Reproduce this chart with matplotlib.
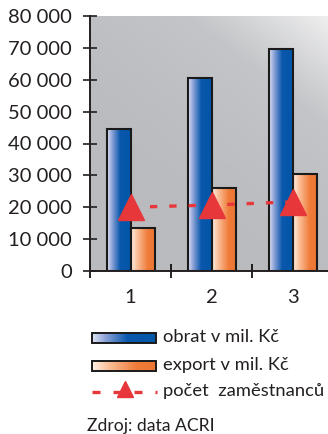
import numpy as np
import matplotlib
matplotlib.use("Agg")
import matplotlib.pyplot as plt
from matplotlib.colors import LinearSegmentedColormap
from matplotlib.patches import Rectangle
from matplotlib.ticker import FuncFormatter

plt.rcParams['font.family'] = ['Lato', 'DejaVu Sans']

categories = [1, 2, 3]
obrat = [44500, 60500, 69500]
export = [13500, 26000, 30300]
zamestnanci = [20000, 20700, 21700]
yticks = [0, 10000, 20000, 30000, 40000, 50000, 60000, 70000, 80000]
legend_labels = ["obrat v mil. Kč", "export v mil. Kč", "počet  zaměstnanců"]
source = "Zdroj: data ACRI"

W, H = 328, 434
fig = plt.figure(figsize=(W / 100, H / 100), dpi=100)

def px_axes(l, t, r, b):
    return [l / W, (H - b) / H, (r - l) / W, (b - t) / H]

ax = fig.add_axes(px_axes(90, 16, 328, 271))
ax.set_xlim(0.5, 3.43)
ax.set_ylim(0, 80000)

# background gradient
gx, gy = np.meshgrid(np.linspace(0, 1, 200), np.linspace(0, 1, 200))
g = np.clip(0.55 * gx + 0.75 * gy - 0.35, 0, 1) ** 1.5
bg_cmap = LinearSegmentedColormap.from_list("bg", ["#b9bbbe", "#c4c5c8", "#f6f6f6"])
ax.imshow(g, cmap=bg_cmap, origin="lower", extent=[0.5, 3.43, 0, 80000],
          aspect="auto", zorder=0, vmin=0, vmax=1)

blue_cmap = LinearSegmentedColormap.from_list(
    "b", [(0, "#dfe4f4"), (0.2, "#8fa4d8"), (0.55, "#0a58ad"), (1, "#0256a8")])
orange_cmap = LinearSegmentedColormap.from_list(
    "o", [(0, "#fff0e6"), (0.25, "#fbc09a"), (0.7, "#f07c3a"), (1, "#ee7532")])

x = np.array(categories, dtype=float)
bw = 0.295
grad = np.linspace(0, 1, 100).reshape(1, -1)

def gradient_bars(xs, vals, cmap):
    bars = ax.bar(xs, vals, width=bw, facecolor="none", edgecolor="#1a1a1a",
                  linewidth=1.5, zorder=3)
    for b in bars:
        x0, y0 = b.get_x(), b.get_y()
        im = ax.imshow(grad, cmap=cmap, aspect="auto", zorder=2,
                       extent=[x0, x0 + b.get_width(), y0, y0 + b.get_height()])
        im.set_clip_path(b)
    return bars

gradient_bars(x - bw / 2, obrat, blue_cmap)
gradient_bars(x + bw / 2, export, orange_cmap)

red = "#e8373a"
ax.plot(x, zamestnanci, color=red, linewidth=2.4, linestyle=(0, (2.2, 3.6)),
        marker="^", markersize=19, markerfacecolor=red, markeredgecolor=red, zorder=4)

ax.set_xlim(0.5, 3.43)
ax.set_ylim(0, 80000)
ax.set_yticks(yticks)
ax.yaxis.set_major_formatter(FuncFormatter(lambda v, p: f"{int(v):,}".replace(",", " ")))
ax.set_xticks([0.5, 1.5, 2.5])
ax.set_xticklabels([])
ax.set_xticks(categories, minor=True)
ax.set_xticklabels([str(c) for c in categories], minor=True)
ax.tick_params(axis="y", direction="inout", length=10, width=1.2, pad=8,
               labelsize=14.5, colors="#231f20")
ax.tick_params(axis="x", which="major", direction="inout", length=10, width=1.2)
ax.tick_params(axis="x", which="minor", length=0, pad=13, labelsize=14.5,
               labelcolor="#231f20")
for s in ["top", "right"]:
    ax.spines[s].set_visible(False)
for s in ["left", "bottom"]:
    ax.spines[s].set_linewidth(1.4)
    ax.spines[s].set_color("#231f20")
    ax.spines[s].set_zorder(5)

# legend drawn in pixel coordinates
lax = fig.add_axes([0, 0, 1, 1])
lax.set_xlim(0, W)
lax.set_ylim(H, 0)
lax.axis("off")
for yc, cmap in [(338, blue_cmap), (366, orange_cmap)]:
    lax.imshow(grad, cmap=cmap, aspect="auto", extent=[92, 156, yc + 5, yc - 5], zorder=2)
    lax.add_patch(Rectangle((92, yc - 5), 64, 10, facecolor="none",
                            edgecolor="#1a1a1a", linewidth=1.4, zorder=3))
lax.plot([92, 157], [392, 392], color=red, linewidth=2.4, linestyle=(0, (2.4, 3.9)))
lax.plot([125], [389], marker="^", markersize=11, color=red)
lax.set_xlim(0, W)
lax.set_ylim(H, 0)
for yc, lab in zip([337, 365, 391], legend_labels):
    lax.text(163, yc, lab, fontsize=13.2, va="center", ha="left", color="#231f20")
lax.text(87, 426, source, fontsize=12.6, va="center", ha="left", color="#231f20")

fig.savefig("out.png", dpi=100)
